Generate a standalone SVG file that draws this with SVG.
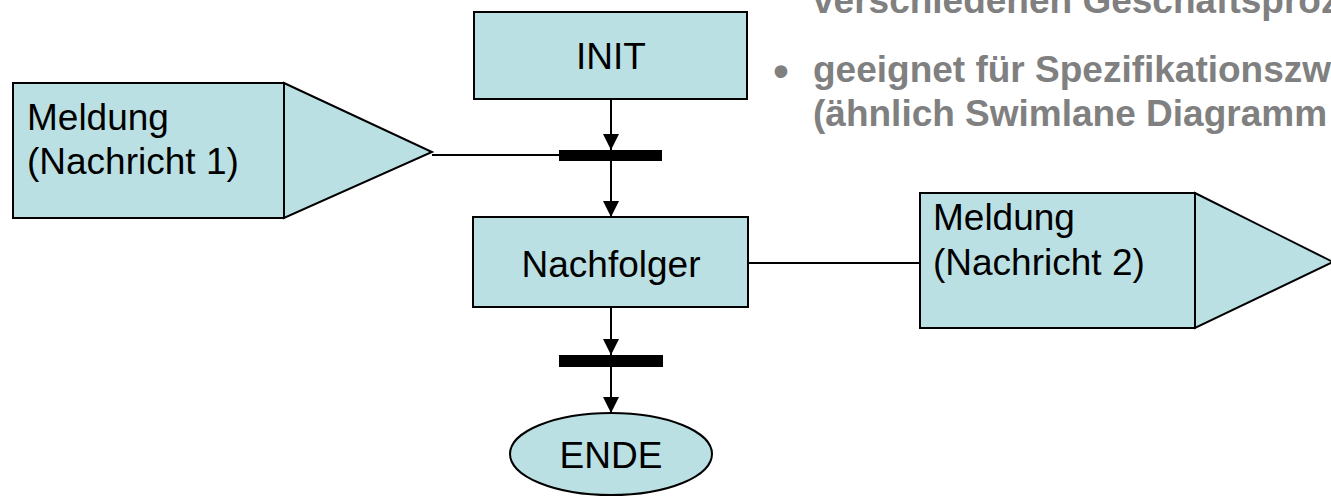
<svg xmlns="http://www.w3.org/2000/svg" width="1331" height="496" viewBox="0 0 1331 496">
<defs>
<style>
.box{fill:#bbe0e3;stroke:#000;stroke-width:2}
.lbl{font-family:"Liberation Sans",Arial,sans-serif;font-size:37px;fill:#000}
.gray{font-family:"Liberation Sans",Arial,sans-serif;font-size:37px;font-weight:bold;fill:#808080}
.con{stroke:#000;stroke-width:2;fill:none}
.bar{fill:#000}
</style>
<marker id="arr" markerUnits="userSpaceOnUse" markerWidth="16" markerHeight="18" refX="16" refY="8" orient="auto">
<path d="M0,0 L16,8 L0,16 Z" fill="#000"/>
</marker>
</defs>
<rect width="1331" height="496" fill="#fff"/>
<g id="bullets">
<text class="gray" x="813" y="13">verschiedenen Geschäftsproz</text>
<text class="gray" x="781" y="86" style="font-size:44px" text-anchor="middle">•</text>
<text class="gray" x="813" y="82">geeignet für Spezifikationszw</text>
<text class="gray" x="813" y="126">(ähnlich Swimlane Diagramm</text>
</g>
<g id="connectors">
<line class="con" x1="611" y1="99" x2="611" y2="150" marker-end="url(#arr)"/>
<line class="con" x1="611" y1="161" x2="611" y2="217" marker-end="url(#arr)"/>
<line class="con" x1="611" y1="307" x2="611" y2="355" marker-end="url(#arr)"/>
<line class="con" x1="611" y1="367" x2="611" y2="413" marker-end="url(#arr)"/>
<line class="con" x1="432" y1="155" x2="559" y2="155"/>
<line class="con" x1="748" y1="263" x2="920" y2="263"/>
</g>
<g id="bar1"><rect class="bar" x="559" y="150" width="103" height="11"/></g>
<g id="bar2"><rect class="bar" x="559" y="355" width="104" height="12"/></g>
<g id="init">
<rect class="box" x="474" y="12" width="273" height="87"/>
<text class="lbl" x="611" y="69" text-anchor="middle">INIT</text>
</g>
<g id="nachfolger">
<rect class="box" x="473" y="217" width="275" height="90"/>
<text class="lbl" x="611" y="277" text-anchor="middle">Nachfolger</text>
</g>
<g id="ende">
<ellipse class="box" cx="611" cy="454" rx="101" ry="41"/>
<text class="lbl" x="611" y="468" text-anchor="middle">ENDE</text>
</g>
<g id="meldung1">
<polygon class="box" points="284,83 432,152 284,218"/>
<rect class="box" x="13" y="83" width="271" height="135"/>
<text class="lbl" x="27" y="130">Meldung</text>
<text class="lbl" x="27" y="174">(Nachricht 1)</text>
</g>
<g id="meldung2">
<polygon class="box" points="1195,193 1333,262 1195,328"/>
<rect class="box" x="920" y="193" width="275" height="135"/>
<text class="lbl" x="933" y="230">Meldung</text>
<text class="lbl" x="933" y="275">(Nachricht 2)</text>
</g>
</svg>
